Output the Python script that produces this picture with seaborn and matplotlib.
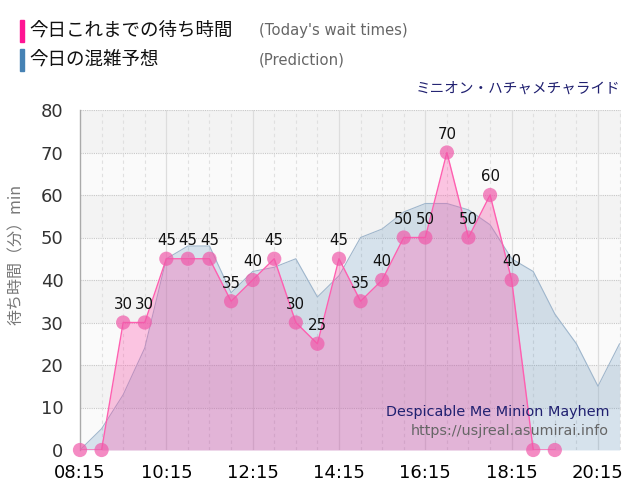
import matplotlib
matplotlib.use("Agg")
import matplotlib.pyplot as plt
import seaborn as sns
import pandas as pd
import numpy as np
from matplotlib.patches import Rectangle

# ---- data ----
actual_times = ["08:15", "08:45", "09:15", "09:45", "10:15", "10:45", "11:15", "11:45",
                "12:15", "12:45", "13:15", "13:45", "14:15", "14:45", "15:15", "15:45",
                "16:15", "16:45", "17:15", "17:45", "18:15", "18:45", "19:15"]
actual_waits = [0, 0, 30, 30, 45, 45, 45, 35, 40, 45, 30, 25, 45, 35, 40, 50,
                50, 70, 50, 60, 40, 0, 0]

pred_times = ["08:15", "08:45", "09:15", "09:45", "10:15", "10:45", "11:15", "11:45",
              "12:15", "12:45", "13:15", "13:45", "14:15", "14:45", "15:15", "15:45",
              "16:15", "16:45", "17:15", "17:45", "18:15", "18:45", "19:15", "19:45",
              "20:15", "20:45"]
pred_waits = [0, 5, 13, 24, 45, 48, 48, 37, 42, 43, 45, 36, 41, 50, 52, 56,
              58, 58, 56.5, 53, 45, 42, 32, 25, 15, 25]

xtick_labels = ["08:15", "10:15", "12:15", "14:15", "16:15", "18:15", "20:15"]
yticks = [0, 10, 20, 30, 40, 50, 60, 70, 80]

legend_jp = ["今日これまでの待ち時間", "今日の混雑予想"]
legend_en = ["(Today's wait times)", "(Prediction)"]
title_text = "ミニオン・ハチャメチャライド"
ylabel_text = "待ち時間（分）min"
watermark1 = "Despicable Me Minion Mayhem"
watermark2 = "https://usjreal.asumirai.info"


def to_h(t):
    h, m = t.split(":")
    return int(h) + int(m) / 60.0


actual = pd.DataFrame({"t": [to_h(t) for t in actual_times], "wait": actual_waits})
pred = pd.DataFrame({"t": [to_h(t) for t in pred_times], "wait": pred_waits})

sns.set_theme(style="white")
plt.rcParams["font.family"] = ["DejaVu Sans", "Noto Sans CJK JP"]
JP = ["Noto Sans CJK JP", "DejaVu Sans"]

fig = plt.figure(figsize=(6.4, 5.0), dpi=100)
ax = fig.add_axes([80 / 640, 50 / 500, (621 - 80) / 640, (450 - 110) / 500])

xmin, xmax = to_h("08:15"), to_h("20:47")
ax.set_xlim(xmin, xmax)
ax.set_ylim(0, 80)

# background bands
for i, lo in enumerate(range(0, 80, 10)):
    col = "#fafafa" if i % 2 == 0 else "#f3f3f3"
    ax.axhspan(lo, lo + 10, color=col, zorder=0, lw=0)

# grid
for y in yticks[1:]:
    ax.axhline(y, color="#c8c8c8", lw=0.8, ls=(0, (1, 1)), zorder=1)
for t in np.arange(to_h("08:45"), xmax, 0.5):
    major = abs(((t - to_h("08:15")) / 2) - round((t - to_h("08:15")) / 2)) < 1e-6
    ax.axvline(t, color="#dddddd" if major else "#e0e0e0", lw=0.9 if major else 0.8,
               ls="-" if major else (0, (3, 3)), zorder=1)

# prediction area
ax.fill_between(pred["t"], pred["wait"], 0, color="#4682b4", alpha=0.2, lw=0, zorder=2)
sns.lineplot(data=pred, x="t", y="wait", ax=ax, color="#9fb6cc", lw=0.8, zorder=3,
             legend=False)

# actual area
ax.fill_between(actual["t"], actual["wait"], 0, color="#ff4aa8", alpha=0.3, lw=0, zorder=4)
sns.lineplot(data=actual, x="t", y="wait", ax=ax, color="#ff5fb0", lw=1.0, zorder=5,
             legend=False)
sns.scatterplot(data=actual, x="t", y="wait", ax=ax, color="#f05aaa", s=105,
                alpha=0.7, edgecolor="none", zorder=6, legend=False)
for coll in ax.collections:
    coll.set_clip_on(False)

for t, w in zip(actual["t"], actual["wait"]):
    if w > 0:
        ax.annotate(f"{w}", (t, w), xytext=(0, 13), textcoords="offset points",
                    ha="center", va="center", fontsize=10.8, color="#111111", zorder=7)

# axes styling
for s in ["top", "right", "bottom"]:
    ax.spines[s].set_visible(False)
ax.spines["left"].set_color("#aaaaaa")
ax.spines["left"].set_linewidth(1.0)

ax.set_yticks(yticks)
ax.set_yticklabels([str(y) for y in yticks], fontsize=13, color="#333333")
ax.set_xticks([to_h(t) for t in xtick_labels])
ax.set_xticklabels(xtick_labels, fontsize=13, color="#000000")
ax.tick_params(axis="y", length=9, color="#dddddd", width=1, pad=3)
ax.tick_params(axis="x", length=4, color="#dddddd", width=1, pad=6)
ax.set_xlabel("")
ax.set_ylabel(ylabel_text, fontsize=11.5, color="#777777", family=JP, va="center")
ax.yaxis.set_label_coords(-0.118, 0.574)

# legend (custom)
bar_cols = ["#ff1493", "#4682b4"]
ys = [31, 60]
for col, y, jp, en in zip(bar_cols, ys, legend_jp, legend_en):
    fig.patches.append(Rectangle((20 / 640, 1 - (y + 11) / 500), 4 / 640, 22 / 500,
                                 transform=fig.transFigure, color=col, figure=fig))
    fig.text(29 / 640, 1 - y / 500, jp, fontsize=13.3, family=JP, color="#111111",
             va="center", ha="left")
    fig.text(259 / 640, 1 - y / 500, en, fontsize=10.7, color="#666666",
             va="center", ha="left")

fig.text(620 / 640, 1 - 89 / 500, title_text, fontsize=10.5, family=JP,
         color="#202070", ha="right", va="center")

fig.text(609 / 640, 1 - 412 / 500, watermark1, fontsize=10.4, color="#202070",
         ha="right", va="center", zorder=10)
fig.text(609 / 640, 1 - 431 / 500, watermark2, fontsize=10.4, color="#666666",
         ha="right", va="center", zorder=10)

fig.savefig("out.png", dpi=100)
